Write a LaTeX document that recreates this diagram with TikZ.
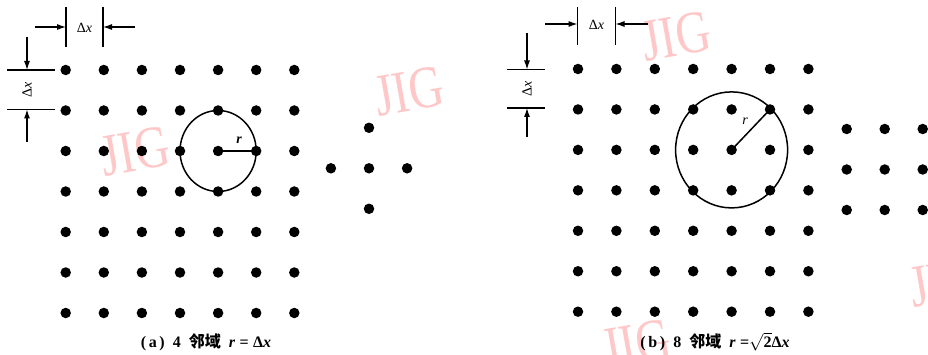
\documentclass[tikz,border=0pt]{standalone}
\usepackage{fontspec}
\setmainfont{Liberation Serif}
\newfontfamily\cjk{Noto Sans CJK SC}
\usetikzlibrary{arrows.meta}
\definecolor{wmpink}{RGB}{255,200,200}
\tikzset{
  dot/.style={circle, fill=black, inner sep=0pt, minimum size=10.5pt},
  tickline/.style={line width=1.1pt},
  dimarrow/.style={line width=1.1pt, -{Latex[length=9pt,width=6pt]}},
  dimlabel/.style={font=\fontsize{14}{14}\selectfont, inner sep=0pt},
  caption/.style={font=\fontsize{16}{18}\selectfont\bfseries, inner sep=0pt},
  wm/.style={text=wmpink, font=\fontsize{60}{60}\selectfont, inner sep=0pt, rotate=10},
  ring/.style={line width=1.5pt},
}
\begin{document}
\begin{tikzpicture}[x=1pt,y=-1pt]
\useasboundingbox (0,0) rectangle (928,355);

% watermarks
\node[wm] (w1) at (135,151) {\scalebox{0.8}[1]{JIG}};
\node[wm] (w2) at (409,91) {\scalebox{0.8}[1]{JIG}};
\node[wm] (w3) at (676,36) {\scalebox{0.8}[1]{JIG}};
\node[wm] (w4) at (636,344) {\scalebox{0.8}[1]{JIG}};
\node[wm] (w5) at (944,282) {\scalebox{0.8}[1]{JIG}};

% ---------- left grid ----------
\foreach \i in {0,...,6}
  \foreach \j in {0,...,6}
    \node[dot] (A-\i-\j) at ({65.7+38.1*\i},{70+40.5*\j}) {};
\draw[ring] (A-4-2.center) ellipse [x radius=38.1, y radius=40.5];
\draw[line width=2.5pt] (A-4-2.center) -- (A-5-2.center);
\node[font=\fontsize{14}{14}\selectfont\itshape\bfseries, inner sep=0pt] (ra) at (239,140) {r};

% left cross
\node[dot] (C-c) at (369,168.3) {};
\node[dot] (C-n) at (369,127.8) {};
\node[dot] (C-s) at (369,208.8) {};
\node[dot] (C-w) at (330.9,168.3) {};
\node[dot] (C-e) at (407.1,168.3) {};

% left dimensions
\coordinate (la1) at (66,7);   \coordinate (la2) at (66,47);
\coordinate (lb1) at (103,7);  \coordinate (lb2) at (103,47);
\draw[tickline] (la1) -- (la2);
\draw[tickline] (lb1) -- (lb2);
\coordinate (lh1) at (35,27);  \coordinate (lh1e) at (66,27);
\coordinate (lh2) at (135,27); \coordinate (lh2e) at (103,27);
\draw[dimarrow] (lh1) -- (lh1e);
\draw[dimarrow] (lh2) -- (lh2e);
\node[dimlabel] (ldx) at (84.5,27.5) {Δ\textit{x}};

\coordinate (lc1) at (7,70);    \coordinate (lc2) at (55,70);
\coordinate (ld1) at (7,109.5); \coordinate (ld2) at (55,109.5);
\draw[tickline] (lc1) -- (lc2);
\draw[tickline] (ld1) -- (ld2);
\coordinate (lv1) at (27,37);   \coordinate (lv1e) at (27,70);
\coordinate (lv2) at (27,142);  \coordinate (lv2e) at (27,109.5);
\draw[dimarrow] (lv1) -- (lv1e);
\draw[dimarrow] (lv2) -- (lv2e);
\node[dimlabel, rotate=90] (ldy) at (27,90) {Δ\textit{x}};

\node[caption] (capa) at (206,342) {(\,a\,)\enspace4\enspace{\cjk 邻域}\enspace\textit{r}\;=\;Δ\textit{x}};

% ---------- right grid ----------
\foreach \i in {0,...,6}
  \foreach \j in {0,...,6}
    \node[dot] (B-\i-\j) at ({578+38.4*\i},{69+40.45*\j}) {};
\draw[ring] (B-4-2.center) ellipse [x radius=56, y radius=58];
\draw[line width=1.5pt] (B-4-2.center) -- (B-5-1.center);
\node[font=\fontsize{14}{14}\selectfont\itshape, inner sep=0pt] (rb) at (745,121) {r};

% right 3x3
\foreach \i in {0,1,2}
  \foreach \j in {0,1,2}
    \node[dot] (D-\i-\j) at ({846.7+38*\i},{129+40.5*\j}) {};

% right dimensions
\coordinate (ra1) at (577.5,7);  \coordinate (ra2) at (577.5,45);
\coordinate (rb1) at (615.5,7);  \coordinate (rb2) at (615.5,45);
\draw[tickline] (ra1) -- (ra2);
\draw[tickline] (rb1) -- (rb2);
\coordinate (rh1) at (545,24);  \coordinate (rh1e) at (577.5,24);
\coordinate (rh2) at (648,24);  \coordinate (rh2e) at (615.5,24);
\draw[dimarrow] (rh1) -- (rh1e);
\draw[dimarrow] (rh2) -- (rh2e);
\node[dimlabel] (rdx) at (596.5,24.5) {Δ\textit{x}};

\coordinate (rc1) at (507,69.5);  \coordinate (rc2) at (545,69.5);
\coordinate (rd1) at (507,108);   \coordinate (rd2) at (545,108);
\draw[tickline] (rc1) -- (rc2);
\draw[tickline] (rd1) -- (rd2);
\coordinate (rv1) at (527,33);   \coordinate (rv1e) at (527,69.5);
\coordinate (rv2) at (527,137);  \coordinate (rv2e) at (527,108);
\draw[dimarrow] (rv1) -- (rv1e);
\draw[dimarrow] (rv2) -- (rv2e);
\node[dimlabel, rotate=90] (rdy) at (527,89) {Δ\textit{x}};

\node[caption] (capb) at (715,342) {(\,b\,)\enspace8\enspace{\cjk 邻域}\enspace\textit{r}\;=$\mathbf{\sqrt{2}}$Δ\textit{x}};
\end{tikzpicture}
\end{document}
